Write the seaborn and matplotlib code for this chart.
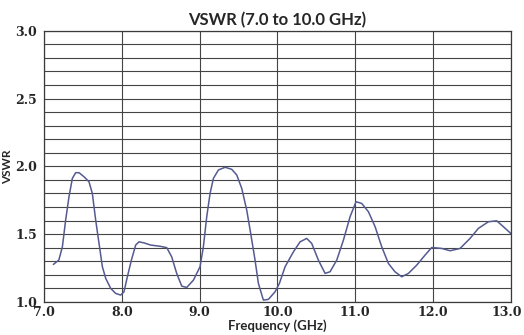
import numpy as np
import pandas as pd
import seaborn as sns
import matplotlib.pyplot as plt
import matplotlib.transforms as mtransforms
from matplotlib.ticker import MultipleLocator

freq = [7.12, 7.19, 7.236, 7.278, 7.321, 7.364, 7.407, 7.45, 7.514, 7.578, 7.621,
        7.664, 7.707, 7.75, 7.793, 7.857, 7.921, 7.985, 8.028, 8.071, 8.123, 8.178,
        8.221, 8.285, 8.371, 8.491, 8.577, 8.641, 8.705, 8.77, 8.834, 8.92, 9.005,
        9.048, 9.091, 9.134, 9.177, 9.241, 9.327, 9.412, 9.477, 9.541, 9.605, 9.656,
        9.712, 9.755, 9.819, 9.883, 9.969, 10.025, 10.098, 10.205, 10.291, 10.376,
        10.44, 10.526, 10.612, 10.676, 10.762, 10.848, 10.933, 11.01, 11.083, 11.169,
        11.255, 11.34, 11.426, 11.51, 11.597, 11.683, 11.79, 11.897, 11.983, 12.111,
        12.218, 12.347, 12.475, 12.582, 12.711, 12.818, 12.904, 12.989, 13.0]
vswr = [1.276, 1.308, 1.406, 1.603, 1.776, 1.911, 1.953, 1.953, 1.923, 1.886, 1.80,
        1.603, 1.431, 1.259, 1.173, 1.099, 1.062, 1.05, 1.074, 1.185, 1.308, 1.419,
        1.443, 1.435, 1.419, 1.41, 1.40, 1.332, 1.21, 1.116, 1.106, 1.16, 1.259,
        1.406, 1.628, 1.80, 1.911, 1.973, 1.993, 1.978, 1.936, 1.837, 1.677, 1.505,
        1.308, 1.136, 1.013, 1.018, 1.074, 1.136, 1.259, 1.369, 1.443, 1.468,
        1.431, 1.308, 1.21, 1.222, 1.308, 1.456, 1.628, 1.739, 1.726, 1.665,
        1.554, 1.406, 1.283, 1.222, 1.185, 1.21, 1.271, 1.345, 1.401, 1.394,
        1.377, 1.394, 1.468, 1.542, 1.591, 1.598, 1.554, 1.51, 1.50]
x_ticks = [7.0, 8.0, 9.0, 10.0, 11.0, 12.0, 13.0]
y_ticks = [1.0, 1.5, 2.0, 2.5, 3.0]

df = pd.DataFrame({"Frequency": freq, "VSWR": vswr})

sns.set_style("white")
fig = plt.figure(figsize=(5.24, 3.35), dpi=100)
ax = fig.add_axes([0.084, 0.099, 0.891, 0.809])

sns.lineplot(data=df, x="Frequency", y="VSWR", ax=ax, color="#555a90", linewidth=1.1)

ax.set_xlim(7.0, 13.0)
ax.set_ylim(1.0, 3.0)
ax.set_xticks(x_ticks)
ax.set_yticks(y_ticks)
ax.yaxis.set_minor_locator(MultipleLocator(0.1))
ax.grid(True, which="both", axis="y", color="#444444", linewidth=0.8)
ax.grid(True, which="major", axis="x", color="#444444", linewidth=0.8)
ax.set_axisbelow(True)
for s in ax.spines.values():
    s.set_color("#3a3a3a")
    s.set_linewidth(0.9)

ax.set_xticklabels([f"{v:.1f}" for v in x_ticks], family="DejaVu Serif",
                   fontweight="bold", fontsize=9)
ax.set_yticklabels([f"{v:.1f}" for v in y_ticks], family="DejaVu Serif",
                   fontweight="bold", fontsize=9)
ax.tick_params(axis="x", length=0, pad=3)
ax.tick_params(axis="y", which="both", length=3, color="#3a3a3a", pad=2)

# nudge the last x label so it stays inside the image
last = ax.get_xticklabels()[-1]
last.set_transform(last.get_transform() +
                   mtransforms.ScaledTranslation(-3 / 72, 0, fig.dpi_scale_trans))

ax.set_title("VSWR (7.0 to 10.0 GHz)", family="Lato", fontweight="bold",
             fontsize=12, pad=4)
ax.set_xlabel("Frequency (GHz)", family="Lato", fontweight="bold", fontsize=9.5, labelpad=0)
ax.set_ylabel("VSWR", family="Lato", fontweight="bold", fontsize=8.5)
ax.yaxis.set_label_coords(-0.066, 0.5)

fig.savefig("out.png", dpi=100)
